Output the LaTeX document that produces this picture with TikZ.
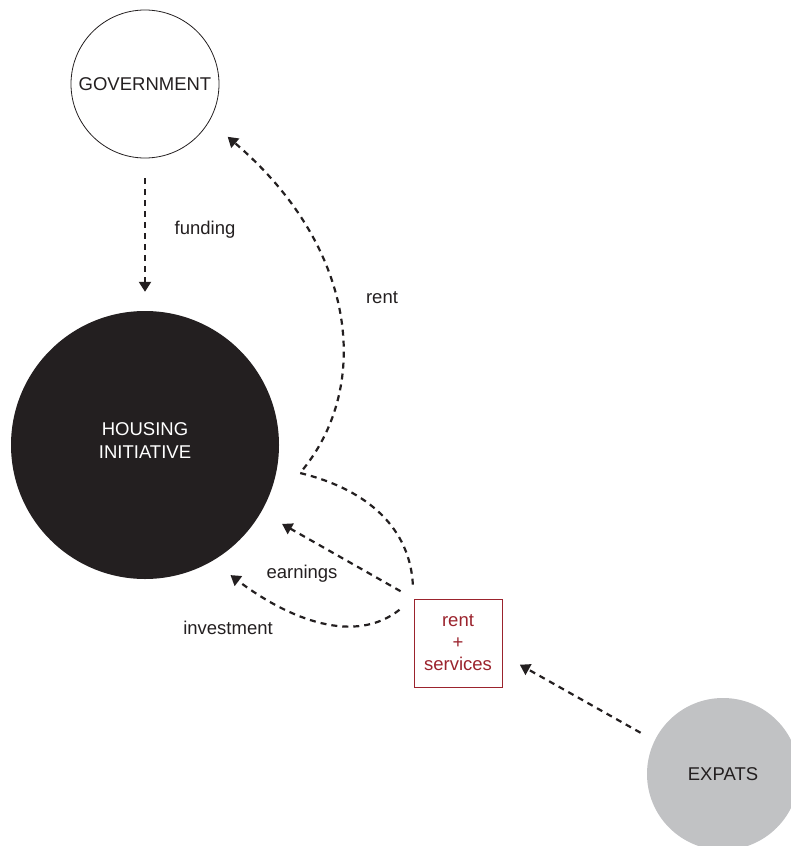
\documentclass[tikz,border=0pt]{standalone}
\usepackage{xcolor}
\usepackage{fontspec}
\setmainfont{Liberation Sans}
\usepackage{tikz}
\usetikzlibrary{calc,shapes,positioning,arrows.meta}
\definecolor{inkColor}{RGB}{35, 31, 32}
\definecolor{expatColor}{RGB}{193, 194, 196}
\definecolor{accentColor}{RGB}{155, 35, 45}
\tikzset{
    actorCircle/.style={circle, inner sep=0pt, align=center, text=inkColor,
        font=\fontsize{18.5}{23}\selectfont},
    flowArrow/.style={draw=inkColor, line width=2.2pt, dash pattern=on 6pt off 5pt,
        -{Triangle[width=12pt,length=10pt]}},
    labelText/.style={text=inkColor, font=\fontsize{18.5}{22}\selectfont}
}

\begin{document}
\begin{tikzpicture}[x=1pt, y=-1pt]
            % Canvas
            \useasboundingbox (0,0) rectangle (790,846);

            % Actors
            \node[actorCircle, draw=inkColor, line width=0.8pt, minimum size=148pt] (government) at (145,84) {GOVERNMENT};
            \node[actorCircle, fill=inkColor, text=white, text depth=8pt, minimum size=268pt] (housing) at (145,445) {HOUSING\\INITIATIVE};
            \node[actorCircle, fill=expatColor, minimum size=152pt] (expats) at (723,774) {EXPATS};

            % Rent + services box
            \node[draw=accentColor, line width=0.8pt, text=accentColor, minimum width=88pt, minimum height=88pt,
                align=center, font=\fontsize{18.5}{22}\selectfont] (rentBox) at (458,643) {rent\\+\\services};

            % Flows
            \draw[flowArrow, shorten <=20pt, shorten >=19pt] (government.south) -- (housing.north);
            \draw[flowArrow, shorten <=16pt, shorten >=20pt] (expats.154) -- (rentBox.-15);
            \draw[flowArrow, shorten <=15pt, shorten >=24pt] (rentBox.north west) -- (housing.-30);
            \draw[flowArrow, shorten <=18pt, shorten >=23pt] (rentBox.north west)
                .. controls (355,645) and (290,620) .. (housing.-60);
            \draw[flowArrow, shorten <=14pt, shorten >=24pt] (rentBox.north west)
                .. controls (410,530) and (370,490) .. (300,473)
                .. controls (371,390) and (360,250) .. (government.-30);

            % Labels
            \node[labelText] (fundingLabel) at (205,230) {funding};
            \node[labelText] (rentLabel) at (382,298) {rent};
            \node[labelText] (earningsLabel) at (302,574) {earnings};
            \node[labelText] (investmentLabel) at (228,628) {investment};
\end{tikzpicture}
\end{document}
